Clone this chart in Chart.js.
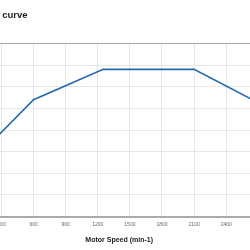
<!DOCTYPE html>
<html>
<head>
<meta charset="utf-8">
<script src="https://cdn.jsdelivr.net/npm/chart.js@4"></script>
<style>
  html, body { margin: 0; padding: 0; background: #fff; overflow: hidden; width: 250px; height: 250px; }
  #wrap { position: absolute; left: -32px; top: 0; width: 301px; height: 250px; }
</style>
</head>
<body>
<div id="wrap"><canvas id="torqueChart"></canvas></div>
<script>
// motor speed (min-1) and torque
const speeds = [0, 600, 1250, 2100, 2800];
const torque = [24, 54, 68, 68, 50];
const chartTitle = 'Torque curve';
const xTitle = 'Motor Speed (min-1)';

document.addEventListener('DOMContentLoaded', () => {
    const canvas = document.getElementById('torqueChart');
    const font = 'Liberation Sans, Arial, Helvetica, sans-serif';

    new Chart(canvas.getContext('2d'), {
        type: 'line',
        data: {
            datasets: [{
                data: speeds.map((s, i) => ({ x: s, y: torque[i] })),
                borderColor: '#2268ae',
                borderWidth: 1.6,
                pointRadius: 0,
                tension: 0,
                fill: false
            }]
        },
        options: {
            responsive: true,
            maintainAspectRatio: false,
            animation: false,
            plugins: {
                legend: { display: false },
                tooltip: { enabled: false },
                title: {
                    display: true,
                    text: chartTitle,
                    align: 'start',
                    color: '#222',
                    font: { family: font, size: 9.5, weight: 'bold' },
                    padding: { top: 9.5, bottom: 22.5 }
                }
            },
            scales: {
                x: {
                    type: 'linear',
                    min: 0,
                    max: 2800,
                    ticks: {
                        stepSize: 300,
                        includeBounds: false,
                        maxRotation: 0,
                        autoSkip: false,
                        color: '#666',
                        padding: 0,
                        font: { family: font, size: 5 },
                        callback: v => String(v)
                    },
                    grid: { color: '#e6e6e6', drawTicks: true, tickLength: 5, tickColor: 'rgba(0,0,0,0)' },
                    border: { display: true, color: '#aaa', width: 2 },
                    title: {
                        display: true,
                        text: xTitle,
                        color: '#222',
                        font: { family: font, size: 7, weight: 'bold' },
                        padding: { top: 8, bottom: 6 }
                    }
                },
                y: {
                    min: 0,
                    max: 80,
                    ticks: { stepSize: 10, display: false },
                    grid: {
                        drawTicks: false,
                        color: ctx => ctx.tick && ctx.tick.value === 80 ? '#aaa' : '#e6e6e6'
                    },
                    border: { display: false }
                }
            }
        }
    });
});
</script>
</body>
</html>
